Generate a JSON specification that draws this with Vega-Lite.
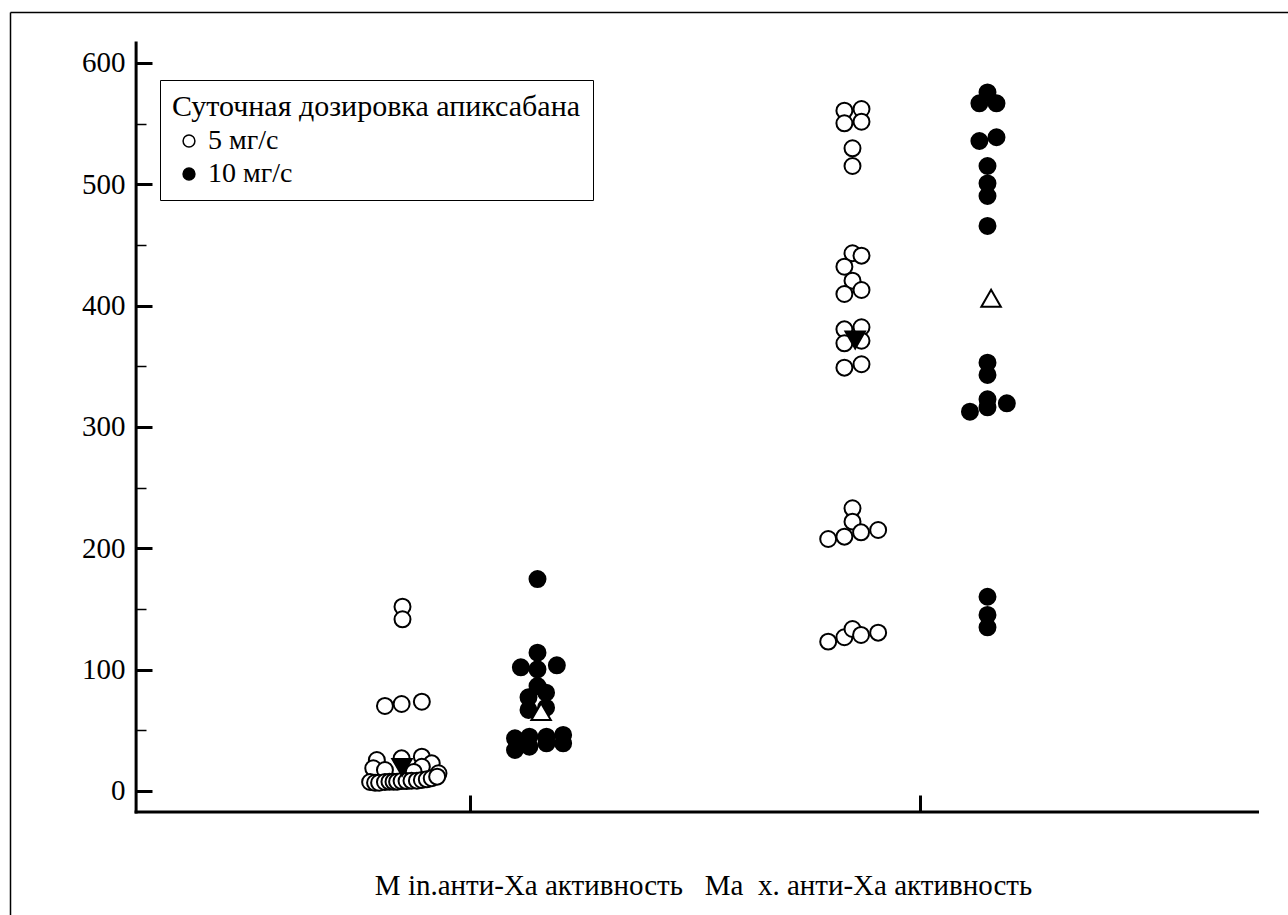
{
  "$schema": "https://vega.github.io/schema/vega-lite/v6.json",
  "width": 1278,
  "height": 903,
  "autosize": {"type": "none"},
  "padding": {"left": 10, "top": 12, "right": 0, "bottom": 0},
  "background": "white",
  "config": {
    "view": {"stroke": null},
    "font": "Liberation Serif",
    "axis": {
      "grid": false,
      "domainColor": "black",
      "tickColor": "black",
      "labelColor": "black",
      "titleColor": "black",
      "labelFont": "Liberation Serif",
      "titleFont": "Liberation Serif",
      "titleFontWeight": "normal"
    }
  },
  "datasets": {
    "points": [
      {"stat": "Min", "dose": "5 мг/с", "pos": 0.850, "value": 151.9},
      {"stat": "Min", "dose": "5 мг/с", "pos": 0.850, "value": 141.5},
      {"stat": "Min", "dose": "5 мг/с", "pos": 0.811, "value": 70.1},
      {"stat": "Min", "dose": "5 мг/с", "pos": 0.848, "value": 71.7},
      {"stat": "Min", "dose": "5 мг/с", "pos": 0.893, "value": 73.6},
      {"stat": "Min", "dose": "5 мг/с", "pos": 0.793, "value": 25.5},
      {"stat": "Min", "dose": "5 мг/с", "pos": 0.848, "value": 26.9},
      {"stat": "Min", "dose": "5 мг/с", "pos": 0.893, "value": 28.3},
      {"stat": "Min", "dose": "5 мг/с", "pos": 0.915, "value": 22.8},
      {"stat": "Min", "dose": "5 мг/с", "pos": 0.785, "value": 18.7},
      {"stat": "Min", "dose": "5 мг/с", "pos": 0.811, "value": 17.3},
      {"stat": "Min", "dose": "5 мг/с", "pos": 0.893, "value": 20.0},
      {"stat": "Min", "dose": "5 мг/с", "pos": 0.930, "value": 14.6},
      {"stat": "Min", "dose": "5 мг/с", "pos": 0.875, "value": 15.7},
      {"stat": "Min", "dose": "5 мг/с", "pos": 0.778, "value": 7.4},
      {"stat": "Min", "dose": "5 мг/с", "pos": 0.789, "value": 6.8},
      {"stat": "Min", "dose": "5 мг/с", "pos": 0.798, "value": 6.8},
      {"stat": "Min", "dose": "5 мг/с", "pos": 0.811, "value": 7.4},
      {"stat": "Min", "dose": "5 мг/с", "pos": 0.821, "value": 7.7},
      {"stat": "Min", "dose": "5 мг/с", "pos": 0.830, "value": 7.7},
      {"stat": "Min", "dose": "5 мг/с", "pos": 0.838, "value": 7.7},
      {"stat": "Min", "dose": "5 мг/с", "pos": 0.848, "value": 8.2},
      {"stat": "Min", "dose": "5 мг/с", "pos": 0.859, "value": 8.2},
      {"stat": "Min", "dose": "5 мг/с", "pos": 0.870, "value": 8.5},
      {"stat": "Min", "dose": "5 мг/с", "pos": 0.882, "value": 8.5},
      {"stat": "Min", "dose": "5 мг/с", "pos": 0.893, "value": 9.1},
      {"stat": "Min", "dose": "5 мг/с", "pos": 0.904, "value": 9.6},
      {"stat": "Min", "dose": "5 мг/с", "pos": 0.915, "value": 10.5},
      {"stat": "Min", "dose": "5 мг/с", "pos": 0.927, "value": 11.8},
      {"stat": "Min", "dose": "10 мг/с", "pos": 1.150, "value": 174.7},
      {"stat": "Min", "dose": "10 мг/с", "pos": 1.150, "value": 114.0},
      {"stat": "Min", "dose": "10 мг/с", "pos": 1.113, "value": 101.9},
      {"stat": "Min", "dose": "10 мг/с", "pos": 1.150, "value": 100.3},
      {"stat": "Min", "dose": "10 мг/с", "pos": 1.193, "value": 103.6},
      {"stat": "Min", "dose": "10 мг/с", "pos": 1.150, "value": 86.5},
      {"stat": "Min", "dose": "10 мг/с", "pos": 1.169, "value": 81.0},
      {"stat": "Min", "dose": "10 мг/с", "pos": 1.130, "value": 77.2},
      {"stat": "Min", "dose": "10 мг/с", "pos": 1.130, "value": 66.8},
      {"stat": "Min", "dose": "10 мг/с", "pos": 1.169, "value": 68.7},
      {"stat": "Min", "dose": "10 мг/с", "pos": 1.100, "value": 43.4},
      {"stat": "Min", "dose": "10 мг/с", "pos": 1.100, "value": 33.8},
      {"stat": "Min", "dose": "10 мг/с", "pos": 1.132, "value": 44.8},
      {"stat": "Min", "dose": "10 мг/с", "pos": 1.132, "value": 36.5},
      {"stat": "Min", "dose": "10 мг/с", "pos": 1.170, "value": 44.8},
      {"stat": "Min", "dose": "10 мг/с", "pos": 1.170, "value": 39.3},
      {"stat": "Min", "dose": "10 мг/с", "pos": 1.207, "value": 46.2},
      {"stat": "Min", "dose": "10 мг/с", "pos": 1.207, "value": 39.3},
      {"stat": "Max", "dose": "5 мг/с", "pos": 1.832, "value": 560.7},
      {"stat": "Max", "dose": "5 мг/с", "pos": 1.870, "value": 562.1},
      {"stat": "Max", "dose": "5 мг/с", "pos": 1.832, "value": 550.3},
      {"stat": "Max", "dose": "5 мг/с", "pos": 1.870, "value": 551.6},
      {"stat": "Max", "dose": "5 мг/с", "pos": 1.850, "value": 529.7},
      {"stat": "Max", "dose": "5 мг/с", "pos": 1.850, "value": 515.1},
      {"stat": "Max", "dose": "5 мг/с", "pos": 1.850, "value": 443.2},
      {"stat": "Max", "dose": "5 мг/с", "pos": 1.870, "value": 441.2},
      {"stat": "Max", "dose": "5 мг/с", "pos": 1.832, "value": 432.1},
      {"stat": "Max", "dose": "5 мг/с", "pos": 1.850, "value": 420.6},
      {"stat": "Max", "dose": "5 мг/с", "pos": 1.832, "value": 409.6},
      {"stat": "Max", "dose": "5 мг/с", "pos": 1.870, "value": 412.9},
      {"stat": "Max", "dose": "5 мг/с", "pos": 1.832, "value": 380.5},
      {"stat": "Max", "dose": "5 мг/с", "pos": 1.870, "value": 382.2},
      {"stat": "Max", "dose": "5 мг/с", "pos": 1.832, "value": 369.0},
      {"stat": "Max", "dose": "5 мг/с", "pos": 1.870, "value": 371.1},
      {"stat": "Max", "dose": "5 мг/с", "pos": 1.832, "value": 348.9},
      {"stat": "Max", "dose": "5 мг/с", "pos": 1.870, "value": 351.7},
      {"stat": "Max", "dose": "5 мг/с", "pos": 1.850, "value": 233.0},
      {"stat": "Max", "dose": "5 мг/с", "pos": 1.850, "value": 222.0},
      {"stat": "Max", "dose": "5 мг/с", "pos": 1.796, "value": 207.7},
      {"stat": "Max", "dose": "5 мг/с", "pos": 1.832, "value": 209.6},
      {"stat": "Max", "dose": "5 мг/с", "pos": 1.869, "value": 213.2},
      {"stat": "Max", "dose": "5 мг/с", "pos": 1.907, "value": 215.1},
      {"stat": "Max", "dose": "5 мг/с", "pos": 1.796, "value": 123.1},
      {"stat": "Max", "dose": "5 мг/с", "pos": 1.832, "value": 126.7},
      {"stat": "Max", "dose": "5 мг/с", "pos": 1.850, "value": 133.5},
      {"stat": "Max", "dose": "5 мг/с", "pos": 1.869, "value": 128.6},
      {"stat": "Max", "dose": "5 мг/с", "pos": 1.907, "value": 130.5},
      {"stat": "Max", "dose": "10 мг/с", "pos": 2.150, "value": 575.8},
      {"stat": "Max", "dose": "10 мг/с", "pos": 2.132, "value": 566.8},
      {"stat": "Max", "dose": "10 мг/с", "pos": 2.170, "value": 566.8},
      {"stat": "Max", "dose": "10 мг/с", "pos": 2.132, "value": 535.7},
      {"stat": "Max", "dose": "10 мг/с", "pos": 2.170, "value": 538.8},
      {"stat": "Max", "dose": "10 мг/с", "pos": 2.150, "value": 515.1},
      {"stat": "Max", "dose": "10 мг/с", "pos": 2.150, "value": 500.8},
      {"stat": "Max", "dose": "10 мг/с", "pos": 2.150, "value": 490.4},
      {"stat": "Max", "dose": "10 мг/с", "pos": 2.150, "value": 465.7},
      {"stat": "Max", "dose": "10 мг/с", "pos": 2.150, "value": 353.0},
      {"stat": "Max", "dose": "10 мг/с", "pos": 2.150, "value": 342.9},
      {"stat": "Max", "dose": "10 мг/с", "pos": 2.150, "value": 322.8},
      {"stat": "Max", "dose": "10 мг/с", "pos": 2.150, "value": 316.2},
      {"stat": "Max", "dose": "10 мг/с", "pos": 2.111, "value": 312.6},
      {"stat": "Max", "dose": "10 мг/с", "pos": 2.193, "value": 319.5},
      {"stat": "Max", "dose": "10 мг/с", "pos": 2.150, "value": 160.1},
      {"stat": "Max", "dose": "10 мг/с", "pos": 2.150, "value": 145.1},
      {"stat": "Max", "dose": "10 мг/с", "pos": 2.150, "value": 134.9}
    ],
    "medians": [
      {"stat": "Min", "dose": "5 мг/с", "pos": 0.849, "median": 19.5},
      {"stat": "Min", "dose": "10 мг/с", "pos": 1.158, "median": 65.4},
      {"stat": "Max", "dose": "5 мг/с", "pos": 1.856, "median": 371.7},
      {"stat": "Max", "dose": "10 мг/с", "pos": 2.158, "median": 406.1}
    ]
  },
  "resolve": {"axis": {"x": "independent", "y": "independent"}},
  "layer": [
    {
      "data": {"values": [{}]},
      "mark": {"type": "rule", "stroke": "black", "strokeWidth": 3, "strokeCap": "square"},
      "encoding": {
        "x": {"datum": 0.258, "type": "quantitative", "axis": null,
              "scale": {"domain": [-0.02222, 2.81778], "nice": false, "zero": false}},
        "y": {"datum": -17.3, "type": "quantitative",
              "scale": {"domain": [-102.2, 642.03], "nice": false, "zero": false},
              "axis": {"orient": "left", "offset": 0, "domain": true, "domainWidth": 1.5,
                       "ticks": false, "labels": false, "title": null}},
        "y2": {"datum": 616.5}
      }
    },
    {
      "data": {"values": [{}]},
      "mark": {"type": "rule", "stroke": "black", "strokeWidth": 3, "strokeCap": "square"},
      "encoding": {
        "x": {"datum": 0.258, "type": "quantitative", "axis": null},
        "x2": {"datum": 2.75},
        "y": {"datum": -17.3, "type": "quantitative", "axis": null}
      }
    },
    {
      "data": {"name": "points"},
      "mark": {"type": "circle", "size": 255, "stroke": "black", "strokeWidth": 2, "opacity": 1, "fillOpacity": 1},
      "encoding": {
        "x": {
          "field": "pos", "type": "quantitative",
          "scale": {"domain": [-0.02222, 2.81778], "nice": false, "zero": false},
          "axis": {
            "orient": "bottom", "offset": -103, "values": [1, 2],
            "labels": false, "domain": false,
            "tickSize": -17, "tickWidth": 3,
            "title": "M in.анти-Xa активность\u00a0\u00a0 Ma\u00a0 x. анти-Xa активность",
            "titleFont": "Liberation Serif", "titleFontWeight": "normal",
            "titleFontSize": 29, "titleX": 693, "titleY": 82,
            "titleAlign": "center", "titleBaseline": "alphabetic", "titleLimit": 1200
          }
        },
        "y": {
          "field": "value", "type": "quantitative",
          "scale": {"domain": [-102.2, 642.03], "nice": false, "zero": false},
          "axis": {
            "orient": "left", "offset": -126,
            "values": [0, 100, 200, 300, 400, 500, 600],
            "domain": false, "tickSize": -16, "tickWidth": 3,
            "labelFont": "Liberation Serif",
            "labelFontSize": 29, "labelPadding": 27, "title": null
          }
        },
        "fill": {
          "field": "dose", "type": "nominal",
          "scale": {"domain": ["5 мг/с", "10 мг/с"], "range": ["white", "black"]},
          "legend": {
            "orient": "none", "legendX": 150, "legendY": 68,
            "title": "Суточная дозировка апиксабана",
            "titleFont": "Liberation Serif", "titleFontSize": 30, "titleFontWeight": "normal",
            "titleColor": "black", "titlePadding": 5, "titleLimit": 1000,
            "labelFont": "Liberation Serif", "labelFontSize": 28, "labelColor": "black",
            "labelOffset": 5, "symbolOffset": 3,
            "symbolType": "circle", "symbolSize": 140,
            "symbolStrokeColor": "black", "symbolStrokeWidth": 1.5,
            "rowPadding": 5, "padding": 12,
            "strokeColor": "black", "fillColor": "white",
            "encode": {
              "title": {"update": {"dx": {"value": 6}}}
            }
          }
        }
      }
    },
    {
      "data": {"name": "medians"},
      "mark": {"type": "point", "filled": true, "size": 380, "stroke": "black", "strokeWidth": 2, "opacity": 1, "fillOpacity": 1},
      "encoding": {
        "x": {
          "field": "pos", "type": "quantitative",
          "axis": {"orient": "top", "offset": 0, "domain": true, "domainWidth": 1.5,
                   "ticks": false, "labels": false, "title": null}
        },
        "y": {
          "field": "median", "type": "quantitative",
          "axis": {
            "orient": "left", "offset": -126,
            "values": [50, 150, 250, 350, 450, 550],
            "domain": false, "labels": false,
            "tickSize": -10, "tickWidth": 1.5, "title": null
          }
        },
        "shape": {
          "condition": {"test": "datum.dose === '5 мг/с'", "value": "triangle-down"},
          "value": "triangle-up"
        },
        "fill": {
          "condition": {"test": "datum.dose === '5 мг/с'", "value": "black"},
          "value": "white"
        }
      }
    }
  ]
}
